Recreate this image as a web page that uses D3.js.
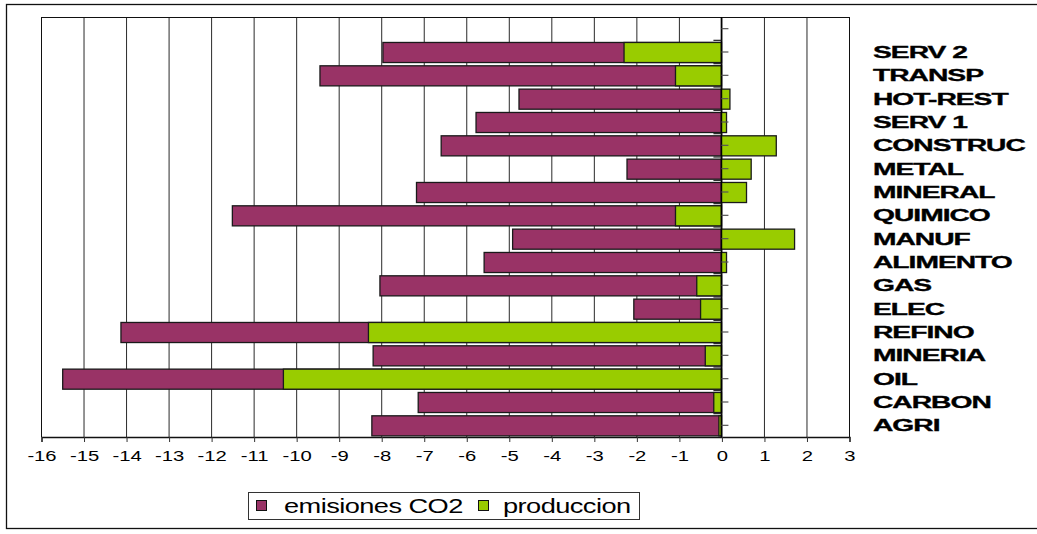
<!DOCTYPE html>
<html>
<head>
<meta charset="utf-8">
<script src="https://cdn.jsdelivr.net/npm/d3@7"></script>
<style>
  html, body { margin: 0; padding: 0; background: #fff; }
  svg { display: block; }
</style>
</head>
<body>
<svg id="chart" width="1037" height="534"></svg>
<script>
// Sector names, listed from the bottom row to the top row
const sectors = ["AGRI", "CARBON", "OIL", "MINERIA", "REFINO", "ELEC", "GAS", "ALIMENTO",
  "MANUF", "QUIMICO", "MINERAL", "METAL", "CONSTRUC", "SERV 1", "HOT-REST", "TRANSP", "SERV 2"];

// Emissions of CO2 per sector
const emisiones = [-8.22, -7.13, -15.49, -8.19, -14.12, -2.06, -8.03, -5.58,
  -4.91, -11.50, -7.17, -2.22, -6.59, -5.77, -4.76, -9.44, -7.96];

// Production per sector
const produccion = [-0.06, -0.18, -10.30, -0.38, -8.30, -0.49, -0.58, 0.12,
  1.72, -1.08, 0.59, 0.70, 1.29, 0.12, 0.20, -1.08, -2.29];

// Value axis ticks
const xTicks = d3.range(-16, 4);

const seriesNames = ["emisiones CO2", "produccion"];
const seriesColors = ["#993366", "#99cc00"];

const svg = d3.select("#chart");

// Outer frame
svg.append("rect")
  .attr("x", 6.5).attr("y", 4.5)
  .attr("width", 1040).attr("height", 524)
  .attr("fill", "#fff").attr("stroke", "#111").attr("stroke-width", 1.3);

const plot = { left: 41, right: 849, top: 17, bottom: 437 };

const x = d3.scaleLinear().domain([-16, 3]).range([plot.left, plot.right]);

// Top row of the category axis is left empty
const rows = [""].concat(sectors.slice().reverse());
const y = d3.scaleBand().domain(rows).range([plot.top, plot.bottom])
  .paddingInner(0.14).paddingOuter(0.07);

// Vertical gridlines
svg.append("g")
  .selectAll("line")
  .data(xTicks)
  .join("line")
  .attr("x1", d => x(d) + 0.5).attr("x2", d => x(d) + 0.5)
  .attr("y1", plot.top).attr("y2", plot.bottom)
  .attr("stroke", d => (d === -16 || d === 3) ? "#111" : "#2a2a2a")
  .attr("stroke-width", 1);

// Plot top border
svg.append("line")
  .attr("x1", plot.left).attr("x2", plot.right + 1)
  .attr("y1", plot.top + 0.5).attr("y2", plot.top + 0.5)
  .attr("stroke", "#111");

// Bars: emissions drawn first, production on top, both from zero
const series = [emisiones, produccion];
series.forEach((vals, si) => {
  svg.append("g")
    .selectAll("rect")
    .data(sectors.map((s, i) => ({ s, v: vals[i] })))
    .join("rect")
    .attr("x", d => x(Math.min(0, d.v)))
    .attr("y", d => y(d.s) + 0.5)
    .attr("width", d => Math.abs(x(d.v) - x(0)))
    .attr("height", y.bandwidth())
    .attr("fill", seriesColors[si])
    .attr("stroke", "#1a1a1a")
    .attr("stroke-width", 1.3);
});

// Zero axis with tick marks at band centers and band boundaries
const zx = x(0);
svg.append("line")
  .attr("x1", zx).attr("x2", zx)
  .attr("y1", plot.top).attr("y2", plot.bottom)
  .attr("stroke", "#000").attr("stroke-width", 1.5);
const step = y.step();
svg.append("g")
  .selectAll("line")
  .data(rows)
  .join("line")
  .attr("x1", zx).attr("x2", zx + 7)
  .attr("y1", (d, i) => plot.top + step * (i + 0.5))
  .attr("y2", (d, i) => plot.top + step * (i + 0.5))
  .attr("stroke", "#555").attr("stroke-width", 1.2);
svg.append("g")
  .selectAll("line")
  .data(d3.range(1, rows.length))
  .join("line")
  .attr("x1", zx - 8).attr("x2", zx)
  .attr("y1", i => plot.top + step * i)
  .attr("y2", i => plot.top + step * i)
  .attr("stroke", "#222").attr("stroke-width", 1.2);

// Bottom value axis
const xAxis = d3.axisBottom(x).tickValues(xTicks).tickSize(5).tickPadding(10);
const gx = svg.append("g")
  .attr("transform", `translate(0.5,${plot.bottom})`)
  .call(xAxis);
gx.select(".domain").attr("stroke", "#111").attr("stroke-width", 1.3);
gx.selectAll(".tick line").attr("stroke", "#333");
gx.selectAll(".tick text").remove();
gx.selectAll(".tick").append("g")
  .attr("transform", "translate(0,24) scale(1.35,1)")
  .append("text")
  .attr("text-anchor", "middle")
  .attr("font-family", "Liberation Sans, Arial, sans-serif")
  .attr("font-size", 15)
  .attr("fill", "#000")
  .text(d => String(d));

// Category labels on the right
svg.append("g")
  .selectAll("g")
  .data(sectors)
  .join("g")
  .attr("transform", d => `translate(873,${y(d) + y.bandwidth() / 2 + 6}) scale(1.66,1)`)
  .append("text")
  .attr("font-family", "Liberation Sans, Arial, sans-serif")
  .attr("font-weight", "bold")
  .attr("font-size", 17)
  .attr("letter-spacing", -0.6)
  .attr("stroke", "#000")
  .attr("stroke-width", 0.35)
  .attr("fill", "#000")
  .text(d => d);

// Legend
const legend = svg.append("g");
legend.append("rect")
  .attr("x", 248.5).attr("y", 492.5).attr("width", 391).attr("height", 27)
  .attr("fill", "#fff").attr("stroke", "#333").attr("stroke-width", 1);
const legendItems = [
  { name: seriesNames[0], color: seriesColors[0], sx: 256, tx: 284 },
  { name: seriesNames[1], color: seriesColors[1], sx: 478, tx: 503 }
];
legendItems.forEach(it => {
  legend.append("rect")
    .attr("x", it.sx + 0.5).attr("y", 500.5).attr("width", 10).attr("height", 10)
    .attr("fill", it.color).attr("stroke", "#111").attr("stroke-width", 1);
  legend.append("g")
    .attr("transform", `translate(${it.tx},513) scale(1.36,1)`)
    .append("text")
    .attr("font-family", "Liberation Sans, Arial, sans-serif")
    .attr("font-size", 20)
    .attr("letter-spacing", -0.4)
    .attr("fill", "#000")
    .text(it.name);
});
</script>
</body>
</html>
